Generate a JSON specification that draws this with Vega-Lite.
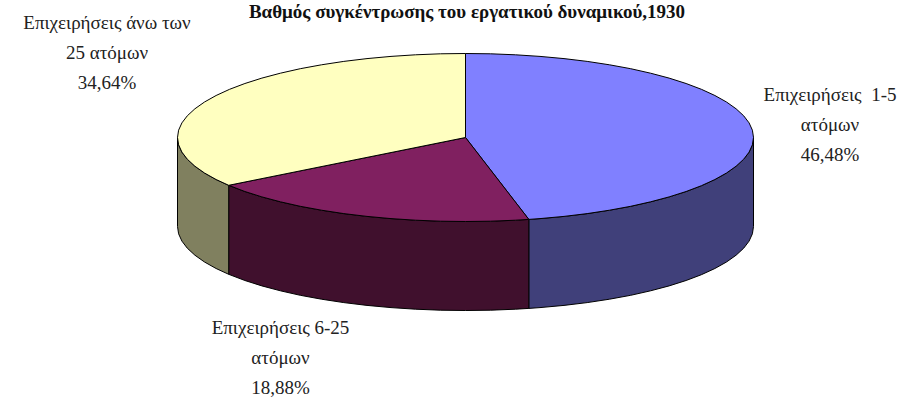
{"$schema":"https://vega.github.io/schema/vega-lite/v6.json","width":904,"height":401,"padding":0,"autosize":{"type":"none"},"background":"white","view":{"stroke":null},"title":{"text":"Βαθμός συγκέντρωσης του εργατικού δυναμικού,1930","font":"Liberation Serif","fontSize":19,"fontWeight":"bold","color":"#111","anchor":"middle","frame":"group","dx":15,"dy":26},"projection":{"type":"identity","scale":1,"translate":[465.5,137.5]},"layer":[{"data":{"values":{"type":"FeatureCollection","features":[
{"type":"Feature","properties":{"name":"Επιχειρήσεις 1-5 ατόμων","share":46.48,"face":"blue side"},"geometry":{"type":"Polygon","coordinates":[[[288,0],[286.9,7.3],[283.6,14.6],[278.2,21.7],[270.6,28.7],[261,35.5],[249.4,42],[235.9,48.2],[220.6,54],[203.6,59.4],[185.1,64.3],[165.2,68.8],[144,72.7],[121.7,76.1],[98.5,78.9],[74.5,81.1],[63.3,81.9],[63.3,170.9],[74.5,170.1],[98.5,167.9],[121.7,165.1],[144,161.7],[165.2,157.8],[185.1,153.3],[203.6,148.4],[220.6,143],[235.9,137.2],[249.4,131],[261,124.5],[270.6,117.7],[278.2,110.7],[283.6,103.6],[286.9,96.3],[288,89],[288,0]]]}},
{"type":"Feature","properties":{"name":"Επιχειρήσεις 6-25 ατόμων","share":18.88,"face":"purple side"},"geometry":{"type":"Polygon","coordinates":[[[63.3,81.9],[50,82.7],[25.1,83.7],[0,84],[-25.1,83.7],[-50,82.7],[-74.5,81.1],[-98.5,78.9],[-121.7,76.1],[-144,72.7],[-165.2,68.8],[-185.1,64.3],[-203.6,59.4],[-220.6,54],[-236.8,47.8],[-236.8,136.8],[-220.6,143],[-203.6,148.4],[-185.1,153.3],[-165.2,157.8],[-144,161.7],[-121.7,165.1],[-98.5,167.9],[-74.5,170.1],[-50,171.7],[-25.1,172.7],[0,173],[25.1,172.7],[50,171.7],[63.3,170.9],[63.3,81.9]]]}},
{"type":"Feature","properties":{"name":"Επιχειρήσεις άνω των 25 ατόμων","share":34.64,"face":"yellow side"},"geometry":{"type":"Polygon","coordinates":[[[-236.8,47.8],[-249.4,42],[-261,35.5],[-270.6,28.7],[-278.2,21.7],[-283.6,14.6],[-286.9,7.3],[-288,0],[-288,89],[-286.9,96.3],[-283.6,103.6],[-278.2,110.7],[-270.6,117.7],[-261,124.5],[-249.4,131],[-236.8,136.8],[-236.8,47.8]]]}},
{"type":"Feature","properties":{"name":"Επιχειρήσεις 1-5 ατόμων","share":46.48,"face":"blue top"},"geometry":{"type":"Polygon","coordinates":[[[0,0],[0,-84],[25.1,-83.7],[50,-82.7],[74.5,-81.1],[98.5,-78.9],[121.7,-76.1],[144,-72.7],[165.2,-68.8],[185.1,-64.3],[203.6,-59.4],[220.6,-54],[235.9,-48.2],[249.4,-42],[261,-35.5],[270.6,-28.7],[278.2,-21.7],[283.6,-14.6],[286.9,-7.3],[288,0],[286.9,7.3],[283.6,14.6],[278.2,21.7],[270.6,28.7],[261,35.5],[249.4,42],[235.9,48.2],[220.6,54],[203.6,59.4],[185.1,64.3],[165.2,68.8],[144,72.7],[121.7,76.1],[98.5,78.9],[74.5,81.1],[63.3,81.9],[0,0]]]}},
{"type":"Feature","properties":{"name":"Επιχειρήσεις 6-25 ατόμων","share":18.88,"face":"purple top"},"geometry":{"type":"Polygon","coordinates":[[[0,0],[63.3,81.9],[50,82.7],[25.1,83.7],[0,84],[-25.1,83.7],[-50,82.7],[-74.5,81.1],[-98.5,78.9],[-121.7,76.1],[-144,72.7],[-165.2,68.8],[-185.1,64.3],[-203.6,59.4],[-220.6,54],[-236.8,47.8],[0,0]]]}},
{"type":"Feature","properties":{"name":"Επιχειρήσεις άνω των 25 ατόμων","share":34.64,"face":"yellow top"},"geometry":{"type":"Polygon","coordinates":[[[0,0],[-236.8,47.8],[-249.4,42],[-261,35.5],[-270.6,28.7],[-278.2,21.7],[-283.6,14.6],[-286.9,7.3],[-288,0],[-286.9,-7.3],[-283.6,-14.6],[-278.2,-21.7],[-270.6,-28.7],[-261,-35.5],[-249.4,-42],[-235.9,-48.2],[-220.6,-54],[-203.6,-59.4],[-185.1,-64.3],[-165.2,-68.8],[-144,-72.7],[-121.7,-76.1],[-98.5,-78.9],[-74.5,-81.1],[-50,-82.7],[-25.1,-83.7],[0,-84],[0,0]]]}}
]},"format":{"type":"json","property":"features"}},"mark":{"type":"geoshape","stroke":"#000","strokeWidth":1},"encoding":{"color":{"field":"properties.face","type":"nominal","legend":null,"sort":null,"scale":{"domain":["blue top","blue side","purple top","purple side","yellow top","yellow side"],"range":["#8080FF","#40407A","#802060","#40102D","#FFFFC0","#80805F"]}}}},
{"data":{"values":[{"label":"Επιχειρήσεις \u00a01-5\nατόμων\n46,48%","share":46.48,"lon":364.5,"lat":-36.5},{"label":"Επιχειρήσεις 6-25\nατόμων\n18,88%","share":18.88,"lon":-185,"lat":196.5},{"label":"Επιχειρήσεις άνω των\n25 ατόμων\n34,64%","share":34.64,"lon":-358.5,"lat":-108.5}]},"mark":{"type":"text","font":"Liberation Serif","fontSize":19,"color":"#222","align":"center","baseline":"alphabetic","lineBreak":"\n","lineHeight":30},"encoding":{"longitude":{"field":"lon","type":"quantitative"},"latitude":{"field":"lat","type":"quantitative"},"text":{"field":"label"}}}]}
